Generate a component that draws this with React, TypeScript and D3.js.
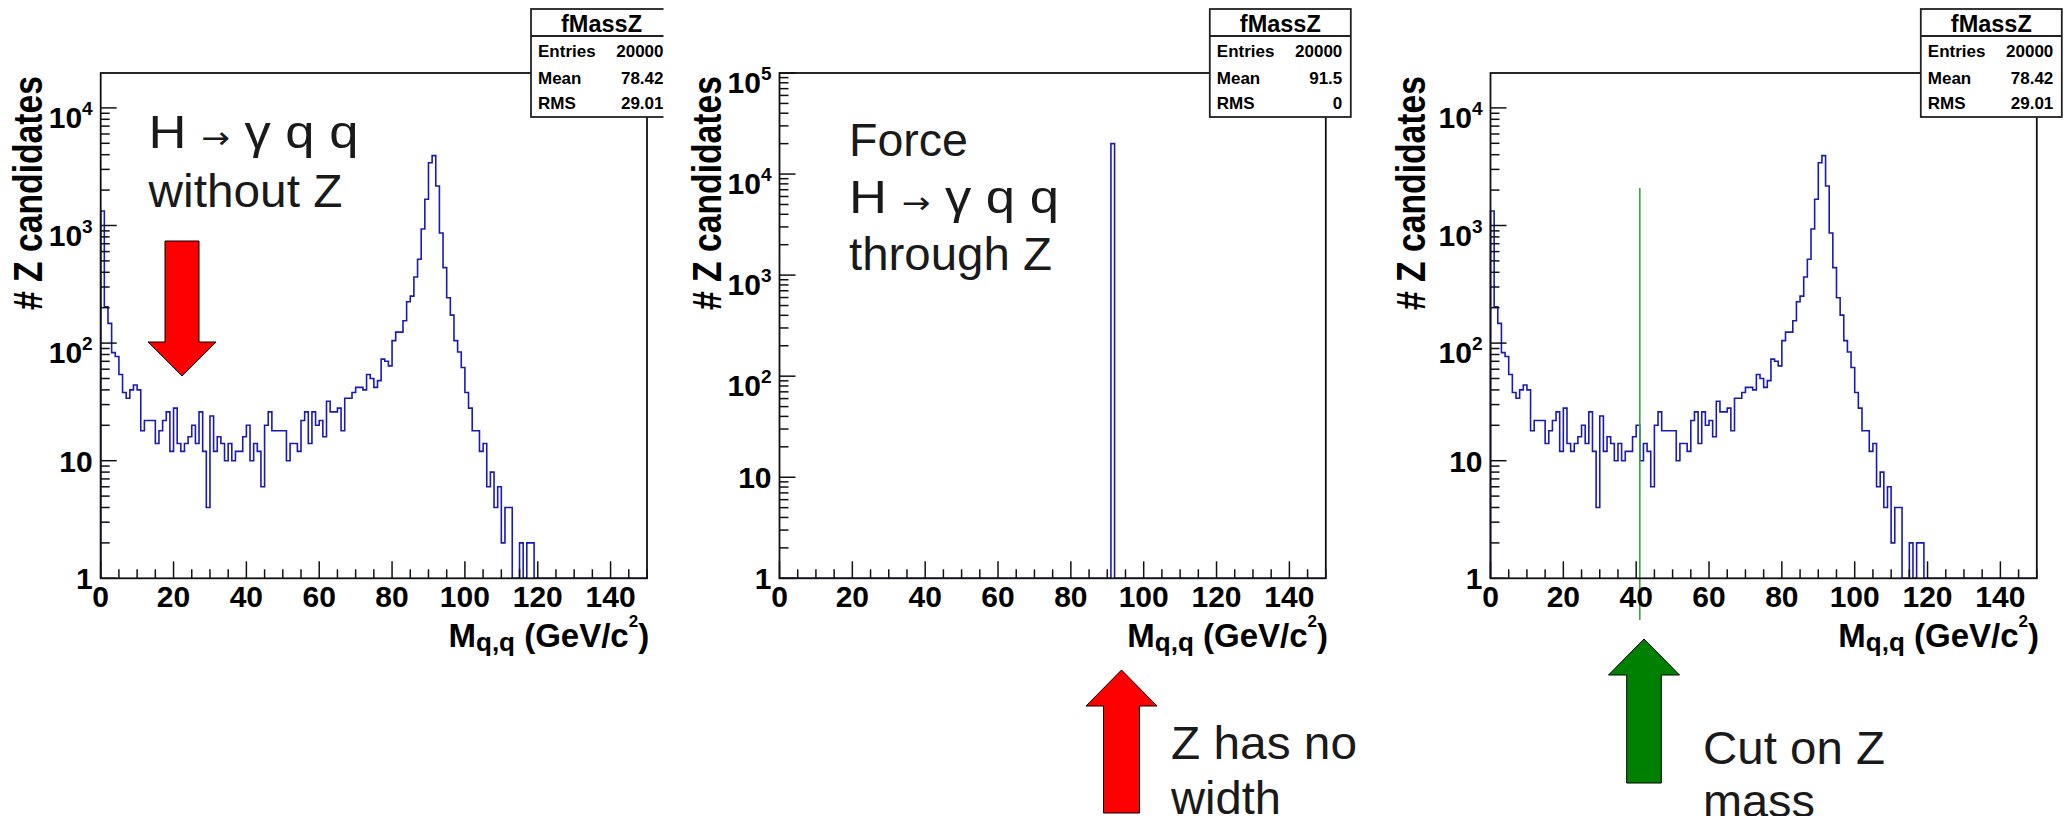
import React from "react";
import * as d3 from "d3";

// ---------------- data ----------------
// counts per 1 GeV bin of M(q,q), bins 0..149
const massCounts: number[] = [
  1330, 204, 147, 83, 77, 54, 38, 34, 40, 44,
  40, 18, 22, 22, 22, 14, 18, 22, 26, 12,
  28, 14, 12, 14, 16, 20, 14, 26, 12, 4,
  24, 12, 16, 14, 10, 14, 10, 12, 12, 16,
  20, 10, 14, 12, 6, 20, 26, 18, 18, 18,
  18, 10, 14, 14, 12, 22, 26, 14, 26, 20,
  22, 16, 32, 26, 26, 28, 18, 34, 34, 38,
  42, 42, 40, 54, 50, 42, 48, 73, 70, 64,
  105, 124, 124, 155, 225, 251, 365, 516, 934, 1670,
  3420, 3925, 2168, 863, 438, 243, 173, 105, 84, 62,
  38, 28, 18, 18, 12, 14, 6, 8, 4, 6,
  2, 4, 4, 0, 0, 2, 0, 2, 2, 0,
  0, 0, 0, 0, 0, 0, 0, 0, 0, 0,
  0, 0, 0, 0, 0, 0, 0, 0, 0, 0,
  0, 0, 0, 0, 0, 0, 0, 0, 0, 0,
];
// forced Z: a single filled bin
const forcedBins: number[] = [91];
const forcedCounts: number[] = [20000];

const xTickValues: number[] = [0, 20, 40, 60, 80, 100, 120, 140];
const statsLabels: string[] = ["Entries", "Mean", "RMS"];
const statsWithoutZ: string[] = ["20000", "78.42", "29.01"];
const statsForcedZ: string[] = ["20000", "91.5", "0"];
const statsCutZ: string[] = ["20000", "78.42", "29.01"];
const cutMass: number[] = [41];

const X_MIN = 0;
const X_MAX = 150;
const N_BINS = 150;

// ---------------- layout ----------------
const W = 2064;
const H = 816;
const FRAME_TOP = 73;
const FRAME_BOTTOM = 578.3;
const FRAME_W = 546.3;
const AXIS_FONT = "'Liberation Sans', Arial, Helvetica, sans-serif";
const NOTE_FONT = "'Liberation Sans', Arial, Helvetica, sans-serif";
const HIST_COLOR = "#1a1ab4";

const forcedArr: number[] = (() => {
  const a = new Array(N_BINS).fill(0);
  forcedBins.forEach((b, i) => (a[b] = forcedCounts[i]));
  return a;
})();

type PanelProps = {
  id: string;
  x0: number;
  yMax: number;
  counts: number[];
  stats: string[];
  clipRight?: number;
  titleBase: number;
  children?: (x: d3.ScaleLinear<number, number>, y: d3.ScaleLogarithmic<number, number>) => React.ReactNode;
};

function Panel({ id, x0, yMax, counts, stats, clipRight, titleBase, children }: PanelProps) {
  const x = d3.scaleLinear().domain([X_MIN, X_MAX]).range([x0, x0 + FRAME_W]);
  const y = d3.scaleLog().domain([1, yMax]).range([FRAME_BOTTOM, FRAME_TOP]).clamp(true);
  const binW = (X_MAX - X_MIN) / N_BINS;

  const pts: [number, number][] = [];
  pts.push([x(X_MIN), y(1)]);
  counts.forEach((c, i) => {
    const yy = y(Math.max(c, 1));
    pts.push([x(X_MIN + i * binW), yy]);
    pts.push([x(X_MIN + (i + 1) * binW), yy]);
  });
  pts.push([x(X_MAX), y(1)]);
  const histPath = d3.line()(pts) || "";

  const xTicks: { v: number; major: boolean }[] = [];
  for (let v = X_MIN; v <= X_MAX + 1e-9; v += 5) xTicks.push({ v, major: v % 20 === 0 });

  const yTicks: { v: number; major: boolean }[] = [];
  const maxDec = Math.floor(Math.log10(yMax) + 1e-9);
  for (let d = 0; d <= maxDec; d++) {
    for (let k = 1; k <= 9; k++) {
      const v = k * Math.pow(10, d);
      if (v > yMax * 1.0001) break;
      yTicks.push({ v, major: k === 1 });
    }
  }
  const decades = d3.range(0, maxDec + 1);

  const boxL = x0 + 430.3;
  const boxR = boxL + 141;
  const clipId = `clip-${id}`;
  const rowY = [57, 84, 109];

  return (
    <g clipPath={clipRight ? `url(#${clipId})` : undefined}>
      {clipRight ? (
        <defs>
          <clipPath id={clipId}>
            <rect x={0} y={0} width={clipRight} height={H} />
          </clipPath>
        </defs>
      ) : null}
      <path d={histPath} fill="none" stroke={HIST_COLOR} strokeWidth={1.6} />
      {children ? children(x, y) : null}
      <rect x={x0} y={FRAME_TOP} width={FRAME_W} height={FRAME_BOTTOM - FRAME_TOP} fill="none" stroke="#111" strokeWidth={1.8} />
      {xTicks.map((t) => (
        <line key={`xt${t.v}`} x1={x(t.v)} x2={x(t.v)} y1={FRAME_BOTTOM} y2={FRAME_BOTTOM - (t.major ? 17 : 9)} stroke="#111" strokeWidth={1.5} />
      ))}
      {xTickValues.map((v) => (
        <text key={`xl${v}`} x={x(v)} y={606.7} textAnchor="middle" fontFamily={AXIS_FONT} fontWeight="bold" fontSize={30} fill="#000">
          {String(v)}
        </text>
      ))}
      {yTicks.map((t, i) => (
        <line key={`yt${i}`} x1={x0} x2={x0 + (t.major ? 16 : 9)} y1={y(t.v)} y2={y(t.v)} stroke="#111" strokeWidth={1.5} />
      ))}
      {decades.map((d) => {
        const ty = y(Math.pow(10, d));
        if (d === 0)
          return (
            <text key={`yl${d}`} x={x0 - 8} y={ty + 10.5} textAnchor="end" fontFamily={AXIS_FONT} fontWeight="bold" fontSize={30}>
              1
            </text>
          );
        if (d === 1)
          return (
            <text key={`yl${d}`} x={x0 - 8} y={ty + 11} textAnchor="end" fontFamily={AXIS_FONT} fontWeight="bold" fontSize={30}>
              10
            </text>
          );
        return (
          <text key={`yl${d}`} x={x0 - 8} y={ty + 20} textAnchor="end" fontFamily={AXIS_FONT} fontWeight="bold" fontSize={30}>
            10
            <tspan fontSize={19} dy={-13}>
              {String(d)}
            </tspan>
          </text>
        );
      })}
      <text
        transform={`translate(${titleBase},310) rotate(-90)`}
        x={0}
        y={0}
        textAnchor="start"
        fontFamily={AXIS_FONT}
        fontWeight="bold"
        fontSize={40}
        textLength={234}
        lengthAdjust="spacingAndGlyphs"
      >
        # Z candidates
      </text>
      <text x={x0 + 548.5} y={646.7} textAnchor="end" fontFamily={AXIS_FONT} fontWeight="bold" fontSize={33}>
        M
        <tspan fontSize={26} dy={4.3}>q,q</tspan>
        <tspan fontSize={33} dy={-4.3}> (GeV/c</tspan>
        <tspan fontSize={17} dy={-19.7}>2</tspan>
        <tspan fontSize={33} dy={19.7}>)</tspan>
      </text>
      <rect x={boxL} y={9} width={boxR - boxL} height={108} fill="#fff" stroke="#222" strokeWidth={1.8} />
      <line x1={boxL} x2={boxR} y1={36} y2={36} stroke="#222" strokeWidth={1.8} />
      <text x={(boxL + boxR) / 2} y={31.7} textAnchor="middle" fontFamily={AXIS_FONT} fontWeight="bold" fontSize={23.5}>
        fMassZ
      </text>
      {statsLabels.map((lab, i) => (
        <g key={lab}>
          <text x={boxL + 7} y={rowY[i]} fontFamily={AXIS_FONT} fontWeight="bold" fontSize={17}>
            {lab}
          </text>
          <text x={boxR - 8.5} y={rowY[i]} textAnchor="end" fontFamily={AXIS_FONT} fontWeight="bold" fontSize={17}>
            {stats[i]}
          </text>
        </g>
      ))}
    </g>
  );
}

function Arrow({ tipX, tipY, baseY, headHalf, shaftHalf, endY, fill }: { tipX: number; tipY: number; baseY: number; headHalf: number; shaftHalf: number; endY: number; fill: string }) {
  const pts: [number, number][] = [
    [tipX, tipY],
    [tipX + headHalf, baseY],
    [tipX + shaftHalf, baseY],
    [tipX + shaftHalf, endY],
    [tipX - shaftHalf, endY],
    [tipX - shaftHalf, baseY],
    [tipX - headHalf, baseY],
  ];
  const d = (d3.line()(pts) || "") + "Z";
  return <path d={d} fill={fill} stroke="#000" strokeWidth={1} />;
}

type NoteLine = { content: React.ReactNode; len: number };

function Note({ x, y, lines, gap, size }: { x: number; y: number; lines: NoteLine[]; gap: number; size: number }) {
  return (
    <g>
      {lines.map((l, i) => (
        <text
          key={i}
          x={x}
          y={y + i * gap}
          fontFamily={NOTE_FONT}
          fontSize={size}
          fill="#1a1a1a"
          textLength={l.len}
          lengthAdjust="spacingAndGlyphs"
        >
          {l.content}
        </text>
      ))}
    </g>
  );
}

const hyqq = (
  <>
    {"H "}
    <tspan fontFamily="'DejaVu Sans', sans-serif" fontSize={30}>{"\u2192"}</tspan>
    {" \u03b3 q q"}
  </>
);

export default function App() {
  const y14 = Math.pow(10, (FRAME_BOTTOM - FRAME_TOP) / 117.6);
  return (
    <svg
      width={W}
      height={H}
      viewBox={`0 0 ${W} ${H}`}
      style={{ position: "absolute", left: 0, top: 0, background: "#fff" }}
    >
      <rect x={0} y={0} width={W} height={H} fill="#fff" />
      {/* Panel 1: without Z */}
      <Panel id="p1" x0={100.7} yMax={y14} counts={massCounts} stats={statsWithoutZ} clipRight={663.5} titleBase={42} />
      <Note
        x={148.5}
        y={148}
        lines={[
          { content: hyqq, len: 210 },
          { content: "without Z", len: 194 },
        ]}
        gap={59}
        size={46}
      />
      <Arrow tipX={182} tipY={376} baseY={342} headHalf={34} shaftHalf={17} endY={241} fill="#ff0000" />

      {/* Panel 2: forced through Z */}
      <Panel id="p2" x0={779.5} yMax={1e5} counts={forcedArr} stats={statsForcedZ} titleBase={721} />
      <Note
        x={849}
        y={156}
        lines={[
          { content: "Force", len: 119 },
          { content: hyqq, len: 210 },
          { content: "through Z", len: 203 },
        ]}
        gap={57}
        size={46}
      />
      <Arrow tipX={1121.5} tipY={670} baseY={706} headHalf={35.5} shaftHalf={18} endY={813} fill="#ff0000" />
      <Note
        x={1171}
        y={759}
        lines={[
          { content: "Z has no", len: 186 },
          { content: "width", len: 110 },
        ]}
        gap={55}
        size={46}
      />

      {/* Panel 3: cut on Z mass */}
      <Panel id="p3" x0={1490.5} yMax={y14} counts={massCounts} stats={statsCutZ} titleBase={1425}>
        {(x) =>
          cutMass.map((m) => (
            <line key={m} x1={x(m)} x2={x(m)} y1={188} y2={620} stroke="#3aa63a" strokeWidth={1.6} />
          ))
        }
      </Panel>
      <Arrow tipX={1644} tipY={639} baseY={675} headHalf={35.5} shaftHalf={17.3} endY={783} fill="#008000" />
      <Note
        x={1703}
        y={764}
        lines={[
          { content: "Cut on Z", len: 182 },
          { content: "mass", len: 112 },
        ]}
        gap={53}
        size={46}
      />
    </svg>
  );
}
